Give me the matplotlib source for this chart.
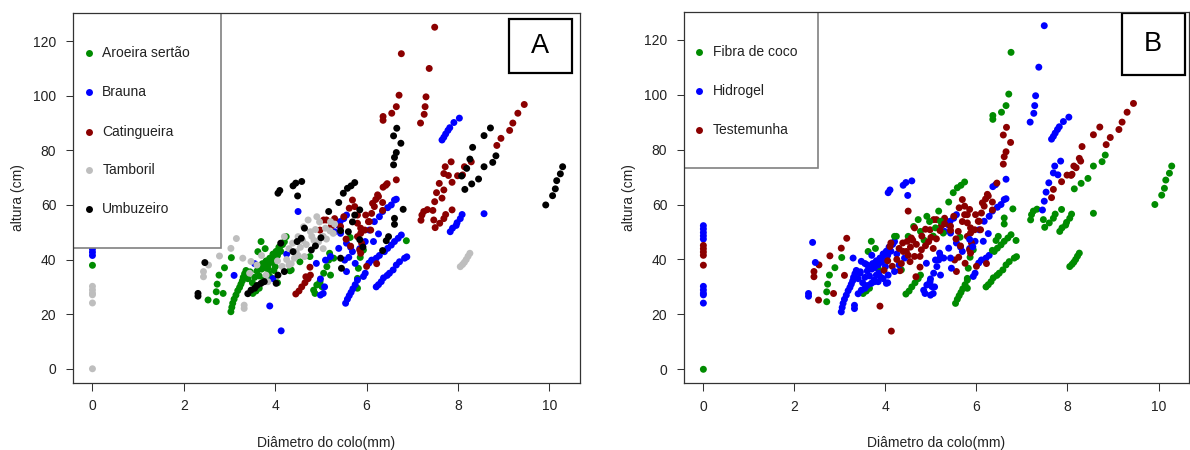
import matplotlib
matplotlib.use("Agg")
import matplotlib.pyplot as plt
from matplotlib.patches import Rectangle

plt.rcParams['font.family'] = ['Liberation Sans', 'DejaVu Sans']

W, H = 1190, 450

species = ["Aroeira sertão", "Brauna", "Catingueira", "Tamboril", "Umbuzeiro"]
species_colors = ["#008B00", "#0000FF", "#8B0000", "#BEBEBE", "#000000"]
treatments = ["Fibra de coco", "Hidrogel", "Testemunha"]
treatment_colors = ["#008B00", "#0000FF", "#8B0000"]

x_ticks = [0, 2, 4, 6, 8, 10]
y_ticks = [0, 20, 40, 60, 80, 100, 120]

# diameter (mm) / height (cm), one pair of lists per species x treatment
aroeira_fibra_x = [2.71, 2.71, 2.73, 2.77, 2.89, 3.04, 3.51, 3.62, 3.65, 3.69, 3.84, 4.24, 4.35,
                   5.64, 5.80, 5.80, 5.82, 5.86, 5.93, 6.87, 3.58, 3.78]
aroeira_fibra_y = [24.6, 28.2, 31.0, 34.3, 37.0, 40.7, 27.6, 42.9, 29.5, 46.6, 36.7, 48.4, 36.2,
                   48.1, 29.5, 33.1, 36.8, 40.8, 43.5, 46.9, 28.5, 44.0]
aroeira_hidro_x = [3.03, 3.05, 3.07, 3.10, 3.14, 3.18, 3.22, 3.25, 3.28, 3.30, 3.33, 3.36, 3.40,
                   3.45, 3.50, 3.55, 3.60, 3.65, 3.70, 3.72, 3.76, 3.80, 3.84, 3.88, 3.92, 3.95,
                   3.98, 4.02, 4.05, 4.08, 4.12, 4.16, 4.20, 3.85, 3.90, 3.75, 4.00, 4.05,
                   4.84, 4.87, 4.91, 4.98, 5.02, 5.06, 5.13, 5.17, 5.21, 5.19, 5.28]
aroeira_hidro_y = [20.9, 22.5, 24.0, 25.5, 27.0, 28.6, 29.8, 31.0, 32.2, 33.5, 34.8, 36.0, 33.0,
                   35.5, 31.5, 33.5, 35.8, 34.0, 36.5, 38.5, 37.0, 39.5, 38.0, 40.5, 39.0, 42.0,
                   40.5, 43.0, 41.5, 44.5, 43.0, 45.5, 46.5, 35.0, 33.5, 32.5, 37.4, 31.5,
                   28.8, 27.6, 30.7, 31.9, 30.1, 35.0, 37.4, 39.8, 34.3, 42.3, 40.5]
aroeira_test_x = [0.0, 2.53, 2.86, 4.32, 4.54, 4.76, 3.97, 4.10]
aroeira_test_y = [37.9, 25.2, 27.6, 35.9, 39.2, 41.1, 36.0, 44.7]

brauna_fibra_x = [5.54, 5.58, 5.62, 5.66, 5.70, 5.75, 5.80, 6.21, 6.26, 6.32, 6.37, 6.45, 6.50,
                  6.58, 6.65, 6.72, 6.83, 6.88, 6.39, 6.46, 6.54, 6.61, 6.69, 6.76, 7.83, 7.88,
                  7.96, 7.98, 8.05, 8.09, 8.57]
brauna_fibra_y = [24.0, 25.5, 26.8, 28.0, 29.3, 30.8, 32.5, 30.0, 30.8, 31.9, 33.3, 34.2, 35.0,
                  36.2, 38.0, 39.2, 40.5, 41.0, 42.9, 44.1, 45.3, 46.6, 47.8, 49.0, 50.2, 51.5,
                  52.5, 53.5, 55.0, 56.5, 56.8]
brauna_hidro_x = [0.0, 0.0, 0.0, 0.0, 0.0, 7.65, 7.69, 7.73, 7.78, 7.82, 7.91, 8.03, 6.06, 6.17,
                  6.28, 6.35, 6.46, 6.54, 6.61, 6.65, 5.93, 5.97, 6.05, 6.11, 6.21, 6.28, 4.99,
                  5.05, 5.08, 4.99, 4.90, 5.10, 5.21, 5.30, 5.39, 5.42, 5.50, 5.56, 5.56, 5.65,
                  5.69, 5.85, 5.97, 6.15, 6.26, 5.43, 5.39, 3.55, 3.95, 4.25]
brauna_hidro_y = [52.3, 51.1, 49.8, 48.6, 47.4, 83.8, 84.8, 86.0, 87.3, 88.3, 90.2, 91.8, 50.8,
                  53.9, 55.7, 57.6, 59.0, 60.0, 61.8, 62.1, 33.8, 35.0, 38.7, 39.8, 40.5, 41.5,
                  27.0, 27.6, 30.0, 32.9, 38.6, 39.8, 41.1, 50.2, 52.5, 53.9, 55.0, 56.3, 46.0,
                  44.5, 42.9, 44.0, 46.6, 46.6, 49.4, 49.6, 44.1, 38.5, 33.0, 42.0]
brauna_test_x = [0.0, 0.0, 0.0, 0.0, 3.10, 3.88, 4.13, 4.50, 5.52, 5.61, 5.56, 5.75]
brauna_test_y = [45.1, 43.9, 42.7, 41.5, 34.2, 23.0, 13.9, 57.6, 39.8, 40.8, 35.6, 38.6]

catingueira_fibra_x = [6.36, 6.36, 6.55, 6.65, 6.71, 6.76, 7.19, 7.21, 7.25, 7.33, 7.47, 7.50,
                       7.60, 7.69, 7.73, 7.87, 4.45, 4.52, 4.58, 4.65, 4.72, 4.77]
catingueira_fibra_y = [91.0, 92.4, 93.6, 96.0, 100.2, 115.4, 54.4, 56.3, 57.6, 58.3, 54.5, 51.7,
                       53.3, 55.0, 56.5, 58.2, 27.4, 28.5, 30.0, 31.5, 33.0, 34.3]
catingueira_hidro_x = [7.18, 7.26, 7.28, 7.30, 7.37, 7.49, 7.45, 7.49, 7.53, 7.59, 7.69, 7.72,
                       7.79, 7.85, 6.36, 6.42, 6.65]
catingueira_hidro_y = [90.0, 93.2, 96.0, 99.6, 110.0, 125.1, 58.0, 61.2, 64.5, 67.9, 71.5, 74.0,
                       70.8, 75.8, 66.5, 67.2, 69.2]
catingueira_test_x = [8.85, 8.94, 9.13, 9.20, 9.31, 9.45, 7.65, 7.69, 7.87, 7.99, 8.10, 8.14,
                      8.29, 4.98, 5.06, 5.12, 5.23, 5.43, 5.50, 5.62, 5.69, 5.74, 5.80, 5.80,
                      5.80, 5.87, 5.98, 6.06, 6.09, 6.13, 6.17, 6.24, 6.26, 6.35, 6.20, 6.35,
                      6.11, 6.04, 5.96, 5.87, 5.65, 5.89, 5.85, 5.87, 4.76, 4.67, 6.45,
                      5.30, 5.55, 6.00, 6.22]
catingueira_test_y = [81.8, 84.4, 87.3, 90.0, 93.6, 96.8, 62.5, 65.5, 68.3, 70.7, 71.0, 74.0,
                      75.8, 50.8, 54.5, 54.5, 52.3, 52.1, 55.7, 58.8, 61.8, 59.4, 56.3, 53.3,
                      48.4, 51.5, 56.3, 53.9, 50.8, 60.6, 59.4, 63.7, 63.1, 60.9, 62.0, 58.0,
                      56.9, 53.9, 50.8, 49.6, 44.9, 46.0, 43.5, 42.3, 37.2, 33.7, 67.8,
                      55.0, 47.5, 37.5, 38.5]

tamboril_fibra_x = [0.0, 8.05, 8.10, 8.14, 8.18, 8.22, 8.26, 4.50, 4.72, 4.77, 4.91, 4.97, 5.21,
                    5.27, 4.85, 5.05, 4.20, 5.10, 4.62]
tamboril_fibra_y = [0.0, 37.4, 38.2, 39.0, 40.0, 41.2, 42.3, 48.4, 54.5, 50.2, 55.7, 53.8, 53.9,
                    49.6, 47.0, 48.5, 48.4, 51.5, 52.0]
tamboril_hidro_x = [0.0, 0.0, 0.0, 0.0, 0.0, 3.32, 3.32, 3.29, 3.47, 3.44, 3.80, 3.84, 2.40,
                    3.60, 3.70, 4.30, 4.42]
tamboril_hidro_y = [30.2, 28.9, 27.7, 27.1, 24.1, 22.1, 23.3, 40.5, 39.3, 35.0, 34.3, 31.9, 46.2,
                    38.0, 41.5, 38.0, 40.5]
tamboril_test_x = [3.15, 3.03, 2.78, 2.54, 2.43, 2.43, 4.30, 4.38, 4.55, 4.60, 4.68, 4.80, 4.88,
                   4.95, 5.05, 5.12, 4.25, 4.35, 4.50, 5.20, 5.30, 4.15, 4.05, 4.64, 4.46]
tamboril_test_y = [47.7, 44.1, 41.3, 38.0, 35.6, 33.7, 44.0, 46.0, 44.5, 47.0, 45.5, 48.5, 51.0,
                   46.5, 44.0, 47.5, 40.0, 38.5, 41.5, 50.5, 53.0, 37.5, 39.5, 41.1, 42.9]

umbuzeiro_fibra_x = [9.92, 10.07, 10.13, 10.16, 10.24, 10.29, 8.15, 8.30, 8.45, 8.57, 8.76, 8.83,
                     5.17, 5.39, 5.49, 5.58, 5.66, 5.74, 6.80, 6.61, 6.61, 6.48, 6.43, 6.35]
umbuzeiro_fibra_y = [60.0, 63.4, 65.9, 68.9, 71.4, 74.0, 65.7, 67.7, 69.5, 74.0, 75.6, 78.0,
                     57.6, 60.9, 64.3, 66.1, 67.0, 68.2, 58.4, 55.1, 52.9, 48.4, 46.9, 43.3]
umbuzeiro_hidro_x = [2.31, 2.31, 2.46, 4.06, 4.10, 4.39, 4.45, 4.58, 4.49, 3.47, 3.60, 3.69,
                     3.76, 4.02, 4.06, 4.20, 5.43, 5.45, 5.85, 5.92, 3.40, 3.55]
umbuzeiro_hidro_y = [26.6, 27.6, 38.9, 64.3, 65.3, 67.0, 68.0, 68.6, 63.3, 28.8, 30.5, 31.3,
                     31.9, 31.3, 34.3, 35.6, 40.5, 36.8, 47.3, 44.6, 27.5, 29.5]
umbuzeiro_test_x = [6.59, 6.61, 6.65, 6.75, 6.59, 6.66, 8.08, 8.19, 8.26, 8.32, 8.57, 8.71,
                    4.64, 4.57, 4.39, 4.79, 4.48, 4.12, 5.43, 5.60, 5.69, 5.85, 5.74, 4.88, 5.00]
umbuzeiro_test_y = [74.7, 77.4, 79.2, 82.6, 85.3, 88.1, 70.6, 73.4, 76.8, 81.1, 85.4, 88.2,
                    51.5, 47.8, 42.9, 43.5, 46.6, 46.0, 50.6, 50.2, 53.8, 58.2, 56.3, 45.0, 48.0]

# (species index, treatment index, x, y)
groups = [
    (0, 0, aroeira_fibra_x, aroeira_fibra_y),
    (0, 1, aroeira_hidro_x, aroeira_hidro_y),
    (0, 2, aroeira_test_x, aroeira_test_y),
    (1, 0, brauna_fibra_x, brauna_fibra_y),
    (1, 1, brauna_hidro_x, brauna_hidro_y),
    (1, 2, brauna_test_x, brauna_test_y),
    (2, 0, catingueira_fibra_x, catingueira_fibra_y),
    (2, 1, catingueira_hidro_x, catingueira_hidro_y),
    (2, 2, catingueira_test_x, catingueira_test_y),
    (3, 0, tamboril_fibra_x, tamboril_fibra_y),
    (3, 1, tamboril_hidro_x, tamboril_hidro_y),
    (3, 2, tamboril_test_x, tamboril_test_y),
    (4, 0, umbuzeiro_fibra_x, umbuzeiro_fibra_y),
    (4, 1, umbuzeiro_hidro_x, umbuzeiro_hidro_y),
    (4, 2, umbuzeiro_test_x, umbuzeiro_test_y),
]

all_x, all_y, col_sp, col_tr = [], [], [], []
for si, ti, xs, ys in groups:
    all_x += xs
    all_y += ys
    col_sp += [species_colors[si]] * len(xs)
    col_tr += [treatment_colors[ti]] * len(xs)

fig = plt.figure(figsize=(W / 100, H / 100), dpi=100)
TXT = "#222222"
DOT = 25


def fx(px):
    return px / W


def fy(py):
    return 1 - py / H


def panel(box, colors, xlabel, labels, lab_colors, leg_box, leg_rows, mark_x, text_x,
          letter, letter_box):
    l, t, r, b = box
    ax = fig.add_axes([fx(l), fy(b), (r - l) / W, (b - t) / H])
    ax.scatter(all_x, all_y, c=colors, s=DOT, linewidths=0, zorder=2)
    ax.set_xlim(-0.43, 10.67)
    ax.set_ylim(-5.1, 130.2)
    ax.set_xticks(x_ticks)
    ax.set_yticks(y_ticks)
    ax.tick_params(direction='out', length=5.4, width=0.75, labelsize=10,
                   colors="#333333", labelcolor=TXT, pad=6.5)
    for sp in ax.spines.values():
        sp.set_linewidth(0.9)
        sp.set_color("#333333")
        sp.set_zorder(4)

    # legend
    ll, lt, lr, lb = leg_box
    ax.add_patch(Rectangle((fx(ll), fy(lb)), (lr - ll) / W, (lb - lt) / H,
                           transform=fig.transFigure, facecolor="white",
                           edgecolor="#808080", linewidth=1.2, zorder=3))
    for lab, c, py in zip(labels, lab_colors, leg_rows):
        ax.scatter([fx(mark_x)], [fy(py)], s=DOT, c=c, linewidths=0,
                   transform=fig.transFigure, zorder=3.5)
        ax.text(fx(text_x), fy(py), lab, transform=fig.transFigure, fontsize=10,
                color=TXT, va='center', ha='left', zorder=3.5)

    # panel letter
    bl, bt, br, bb = letter_box
    ax.add_patch(Rectangle((fx(bl), fy(bb)), (br - bl) / W, (bb - bt) / H,
                           transform=fig.transFigure, facecolor="white",
                           edgecolor="black", linewidth=1.6, zorder=3))
    ax.text(fx((bl + br) / 2), fy((bt + bb) / 2), letter, transform=fig.transFigure,
            fontsize=19.5, ha='center', va='center', zorder=3.5)

    fig.text(fx((l + r) / 2), fy(442.5), xlabel, ha='center', va='center',
             fontsize=10, color=TXT)
    fig.text(fx(l - 55), fy((t + b) / 2), "altura (cm)", ha='center', va='center',
             rotation=90, fontsize=10, color=TXT)
    return ax


panel((72.8, 13.3, 580, 382.7), col_sp, "Diâmetro do colo(mm)", species, species_colors,
      (72.8, 13.3, 221, 247.7), [52.7, 92.3, 131.7, 170.0, 209.3], 88.7, 102.3,
      "A", (509, 19, 571.8, 72.7))
panel((683.8, 11.7, 1189, 383.3), col_tr, "Diâmetro da colo(mm)", treatments, treatment_colors,
      (683.8, 11.7, 818.3, 168.3), [51.7, 90.7, 130.0], 699, 712.8,
      "B", (1121.5, 12.7, 1184.5, 75))

fig.savefig("out.png", dpi=100)
